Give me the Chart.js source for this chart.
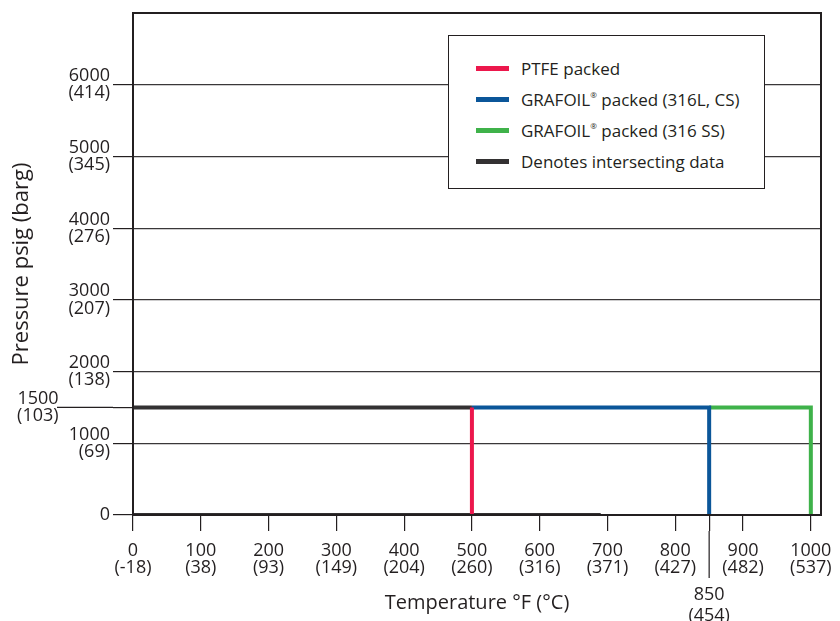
<!DOCTYPE html>
<html>
<head>
<meta charset="utf-8">
<script src="https://cdn.jsdelivr.net/npm/chart.js@4/dist/chart.umd.min.js"></script>
<style>
  body { margin: 0; background: #fff; }
  #wrap { position: relative; width: 840px; height: 621px; }
  #legend {
    position: absolute; left: 448px; top: 35px; width: 317px; height: 154px;
    box-sizing: border-box; border: 1.3px solid #231f20; background: #fff;
    padding-top: 17px; font-family: "Open Sans", sans-serif; font-size: 17px; color: #231f20;
  }
  #legend .row { display: flex; align-items: center; height: 31px; padding-left: 27px; }
  #legend .sw { width: 33px; height: 5px; margin-right: 12px; }
  #legend sup { font-size: 8px; position: relative; top: -1px; }
</style>
</head>
<body>
<div id="wrap">
  <canvas id="ratingChart"></canvas>
  <div id="legend"></div>
</div>
<script>
// Axis ticks (psig / barg and °F / °C)
const pressTicks = [0, 1000, 1500, 2000, 3000, 4000, 5000, 6000];
const pressBarg = ['', '(69)', '(103)', '(138)', '(207)', '(276)', '(345)', '(414)'];
const tempTicks = [0, 100, 200, 300, 400, 500, 600, 700, 800, 850, 900, 1000];
const tempCelsius = ['(-18)', '(38)', '(93)', '(149)', '(204)', '(260)', '(316)', '(371)', '(427)', '(454)', '(482)', '(537)'];

// Series
const ptfeTemp = [500, 500];
const ptfePress = [1500, 0];
const grafoilCsTemp = [500, 850, 850];
const grafoilCsPress = [1500, 1500, 0];
const grafoilSsTemp = [850, 1000, 1000];
const grafoilSsPress = [1500, 1500, 0];
const sharedTemp = [0, 500, null, 0, 690];
const sharedPress = [1500, 1500, null, 0, 0];

const ink = '#231f20';

function points(xs, ys) {
    return xs.map((x, i) => ({ x: x, y: ys[i] }));
}

function series(label, xs, ys, color) {
    return {
        label: label,
        data: points(xs, ys),
        showLine: true,
        borderColor: color,
        backgroundColor: color,
        borderWidth: 4,
        borderJoinStyle: 'miter',
        pointRadius: 0,
        spanGaps: false
    };
}

// extra long tick marks, frame of the plot
const framePlugin = {
    id: 'frame',
    afterDatasetsDraw(chart) {
        const { ctx, chartArea: a, scales } = chart;
        ctx.save();
        ctx.strokeStyle = ink;
        ctx.lineWidth = 1.2;
        const y1500 = scales.y.getPixelForValue(1500);
        ctx.beginPath();
        ctx.moveTo(57, y1500);
        ctx.lineTo(a.left - 20, y1500);
        const x850 = scales.x.getPixelForValue(850);
        ctx.moveTo(x850, a.bottom + 16);
        ctx.lineTo(x850, 578);
        ctx.stroke();
        ctx.lineWidth = 2;
        ctx.strokeRect(a.left, a.top, a.right - a.left, a.bottom - a.top);
        ctx.restore();
    }
};

const tickFont = { family: '"Open Sans", sans-serif', size: 18, lineHeight: 0.95 };

const chart = new Chart(document.getElementById('ratingChart'), {
    type: 'scatter',
    data: {
        datasets: [
            series('PTFE packed', ptfeTemp, ptfePress, '#ec174c'),
            series('GRAFOIL® packed (316L, CS)', grafoilCsTemp, grafoilCsPress, '#0b5699'),
            series('GRAFOIL® packed (316 SS)', grafoilSsTemp, grafoilSsPress, '#3fb24a'),
            series('Denotes intersecting data', sharedTemp, sharedPress, '#333132')
        ]
    },
    options: {
        responsive: true,
        maintainAspectRatio: false,
        animation: false,
        layout: { padding: { top: 13, right: 19, left: 0, bottom: 0 } },
        plugins: { legend: { display: false }, tooltip: { enabled: false } },
        scales: {
            x: {
                type: 'linear',
                min: 0,
                max: 1015,
                afterBuildTicks: (s) => { s.ticks = tempTicks.map(v => ({ value: v })); },
                afterFit: (s) => { s.height = 106; s.paddingLeft = 0; s.paddingRight = 0; },
                border: { display: false },
                grid: { drawOnChartArea: false, tickLength: 16, color: ink, lineWidth: 1.2 },
                ticks: {
                    autoSkip: false,
                    maxRotation: 0,
                    padding: 11,
                    color: ink,
                    font: (c) => c.tick && c.tick.value === 850
                        ? { family: tickFont.family, size: 18, lineHeight: 1.17 }
                        : tickFont,
                    callback: (v) => {
                        const i = tempTicks.indexOf(v);
                        if (v === 850) return ['', '', '850', tempCelsius[i]];
                        return [String(v), tempCelsius[i]];
                    }
                },
                title: {
                    display: true,
                    text: 'Temperature °F (°C)',
                    color: ink,
                    font: { family: '"Open Sans", sans-serif', size: 20, lineHeight: 1.2 },
                    padding: { top: 0, bottom: 6 }
                }
            },
            y: {
                type: 'linear',
                min: 0,
                max: 7000,
                afterBuildTicks: (s) => { s.ticks = pressTicks.map(v => ({ value: v })); },
                afterFit: (s) => { s.width = 133; s.paddingTop = 0; s.paddingBottom = 0; },
                border: { display: false },
                grid: {
                    tickLength: 20,
                    lineWidth: 1.2,
                    tickColor: ink,
                    color: (c) => (c.tick && (c.tick.value === 1500 || c.tick.value === 0)) ? 'rgba(0,0,0,0)' : '#3a3738'
                },
                ticks: {
                    padding: 3,
                    color: ink,
                    font: tickFont,
                    callback: (v) => {
                        const i = pressTicks.indexOf(v);
                        if (v === 0) return '0';
                        const pad = v === 1500 ? '           ' : '';
                        return [String(v) + pad, pressBarg[i] + pad];
                    }
                },
                title: {
                    display: true,
                    text: 'Pressure psig (barg)',
                    color: ink,
                    font: { family: '"Open Sans", sans-serif', size: 22, lineHeight: 1.2 },
                    padding: { top: 9, bottom: 0 }
                }
            }
        }
    },
    plugins: [framePlugin]
});

// legend box inside the plot
const legendEl = document.getElementById('legend');
chart.data.datasets.forEach(ds => {
    const row = document.createElement('div');
    row.className = 'row';
    const sw = document.createElement('span');
    sw.className = 'sw';
    sw.style.background = ds.borderColor;
    const txt = document.createElement('span');
    txt.innerHTML = ds.label.replace('®', '<sup>®</sup>');
    row.appendChild(sw);
    row.appendChild(txt);
    legendEl.appendChild(row);
});
</script>
</body>
</html>
